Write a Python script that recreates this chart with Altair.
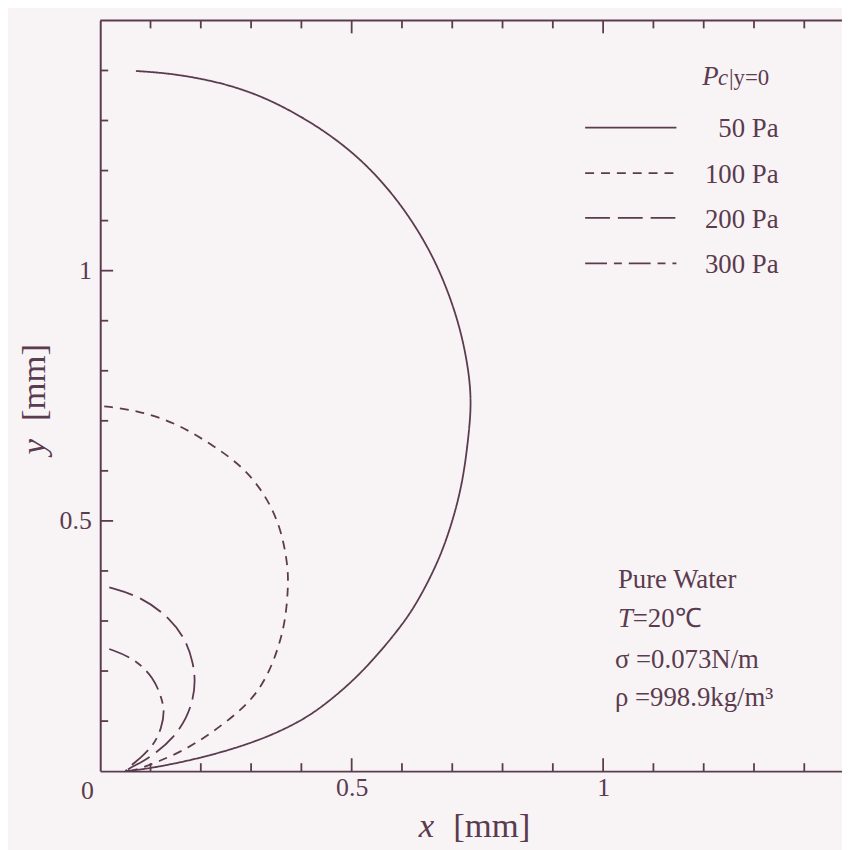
import altair as alt
import pandas as pd

# ---------------- data ----------------
series = ["50 Pa", "100 Pa", "200 Pa", "300 Pa"]

x_50 = [0.071, 0.130, 0.195, 0.260, 0.327, 0.393, 0.458, 0.525, 0.590, 0.643, 0.682, 0.714, 0.732, 0.738,
        0.734, 0.722, 0.702, 0.675, 0.635, 0.600, 0.520, 0.450, 0.400, 0.320, 0.220, 0.130, 0.073, 0.05]
y_50 = [1.399, 1.395, 1.385, 1.370, 1.346, 1.312, 1.271, 1.217, 1.144, 1.064, 0.985, 0.894, 0.807, 0.741,
        0.682, 0.583, 0.503, 0.424, 0.345, 0.290, 0.195, 0.135, 0.100, 0.062, 0.031, 0.011, 0.002, 0.0]

x_100 = [0.008, 0.074, 0.152, 0.218, 0.284, 0.330, 0.360, 0.373, 0.374, 0.369, 0.356, 0.337, 0.310,
         0.271, 0.218, 0.166, 0.113, 0.087, 0.06]
y_100 = [0.729, 0.721, 0.695, 0.655, 0.609, 0.550, 0.484, 0.411, 0.371, 0.305, 0.252, 0.200, 0.153,
         0.114, 0.074, 0.041, 0.018, 0.008, 0.0]

x_200 = [0.018, 0.081, 0.140, 0.172, 0.185, 0.189, 0.185, 0.172, 0.146, 0.112, 0.081, 0.067, 0.05]
y_200 = [0.367, 0.349, 0.305, 0.259, 0.215, 0.180, 0.145, 0.106, 0.067, 0.037, 0.017, 0.011, 0.0]

x_300 = [0.018, 0.067, 0.107, 0.122, 0.128, 0.122, 0.107, 0.081, 0.063, 0.05]
y_300 = [0.244, 0.226, 0.186, 0.146, 0.120, 0.086, 0.053, 0.027, 0.013, 0.0]

dash_patterns = [[1, 0], [9, 7], [25, 8], [22, 7, 8, 7]]

minor_ticks = [0.1, 0.2, 0.3, 0.4, 0.6, 0.7, 0.8, 0.9, 1.1, 1.2, 1.3, 1.4]
major_ticks = [0.5, 1.0]

info_lines = ["Pure Water", "=20℃", "σ =0.073N/m", "ρ =998.9kg/m³"]

# ---------------- build tables ----------------
rows = []
for name, xs_, ys_ in zip(series, [x_50, x_100, x_200, x_300], [y_50, y_100, y_200, y_300]):
    for i, (a, b) in enumerate(zip(xs_, ys_)):
        rows.append({"series": name, "x": a, "y": b, "order": i})
df = pd.DataFrame(rows)

W, H = 748, 757
X_MAX, Y_MAX = 1.475, 1.5
INK = "#5b3b4e"
BG = "#f8f4f6"
FONT = "Liberation Serif"

# tick segments (inward), lengths 8 px (minor) and 13 px (major), expressed in data units
px_x = X_MAX / W
px_y = Y_MAX / H
trows = []
tid = 0
for vals, ln in [(minor_ticks, 8), (major_ticks, 13)]:
    for v in vals:
        for (a0, b0), (a1, b1) in [((v, 0.0), (v, ln * px_y)),
                                   ((v, Y_MAX), (v, Y_MAX - ln * px_y)),
                                   ((0.0, v), (ln * px_x, v))]:
            trows.append({"id": tid, "k": 0, "tx": a0, "ty": b0})
            trows.append({"id": tid, "k": 1, "tx": a1, "ty": b1})
            tid += 1
tick_df = pd.DataFrame(trows)

xscale = alt.Scale(domain=[0, X_MAX], nice=False, zero=False)
yscale = alt.Scale(domain=[0, Y_MAX], nice=False, zero=False)

x_main = alt.Axis(values=major_ticks, format="~g", ticks=False, grid=False, title=None,
                  domainColor=INK, domainWidth=2, labelFont=FONT, labelFontSize=26,
                  labelColor=INK, labelPadding=4)
y_main = alt.Axis(values=major_ticks, format="~g", ticks=False, grid=False, title=None,
                  domainColor=INK, domainWidth=2, labelFont=FONT, labelFontSize=26,
                  labelColor=INK, labelPadding=9)

curves = alt.Chart(df).mark_line(color=INK, strokeWidth=1.8, interpolate="basis").encode(
    x=alt.X("x:Q", scale=xscale, axis=x_main),
    y=alt.Y("y:Q", scale=yscale, axis=y_main),
    detail="series:N",
    strokeDash=alt.StrokeDash("series:N", scale=alt.Scale(domain=series, range=dash_patterns), legend=None),
    order="order:Q",
)

ticks = alt.Chart(tick_df).mark_line(color=INK, strokeWidth=1.8).encode(
    x=alt.X("tx:Q", scale=xscale, axis=None),
    y=alt.Y("ty:Q", scale=yscale, axis=None),
    detail="id:N",
    order="k:Q",
)

layers = [curves, ticks]

# top frame line
layers.append(alt.Chart(pd.DataFrame({"a": [0]})).mark_rule(color=INK, strokeWidth=2).encode(
    x=alt.value(0), x2=alt.value(W), y=alt.value(0)))


def txt(s, x, y, size=27, style="normal", align="left", angle=0):
    m = alt.Chart(pd.DataFrame({"t": [s]})).mark_text(
        font=FONT, fontSize=size, fontStyle=style, color=INK, align=align,
        baseline="alphabetic", angle=angle)
    return m.encode(text="t:N", x=alt.value(x), y=alt.value(y))


# origin label
layers.append(txt("0", -13, 785, size=26, align="center"))
# axis titles
layers.append(txt("x", 329, 823, size=35, style="italic", align="center"))
layers.append(txt("[mm]", 356, 823, size=35))
layers.append(txt("y", -56, 430, size=35, style="italic", align="center", angle=270))
layers.append(txt("[mm]", -56, 404, size=35, align="left", angle=270))

# legend
layers.append(txt("P", 607, 65, size=27, style="italic"))
layers.append(txt("c", 623, 65, size=23, style="italic"))
layers.append(txt("|y=0", 634, 65, size=23))
legend_y = [108, 154, 199, 245]
for name, dash, ly in zip(series, dash_patterns, legend_y):
    kw = {} if dash == [1, 0] else {"strokeDash": dash}
    layers.append(alt.Chart(pd.DataFrame({"series": [name]})).mark_rule(
        color=INK, strokeWidth=1.8, **kw).encode(x=alt.value(489), x2=alt.value(581), y=alt.value(ly)))
    layers.append(txt(name, 684, ly + 10, align="right"))

# info block
layers.append(txt(info_lines[0], 522, 572))
layers.append(txt("T", 522, 612, style="italic"))
layers.append(txt(info_lines[1], 537, 612))
layers.append(txt(info_lines[2], 519, 653))
layers.append(txt(info_lines[3], 519, 691))

chart = alt.layer(*layers).resolve_axis(x="independent", y="independent").properties(
    width=W, height=H,
    padding={"left": 93, "top": 9, "right": 0, "bottom": 76},
    autosize=alt.AutoSizeParams(type="none"),
    background=BG,
).configure_view(stroke=None)

chart.save("out.html", embed_options={"renderer": "svg", "actions": False})
